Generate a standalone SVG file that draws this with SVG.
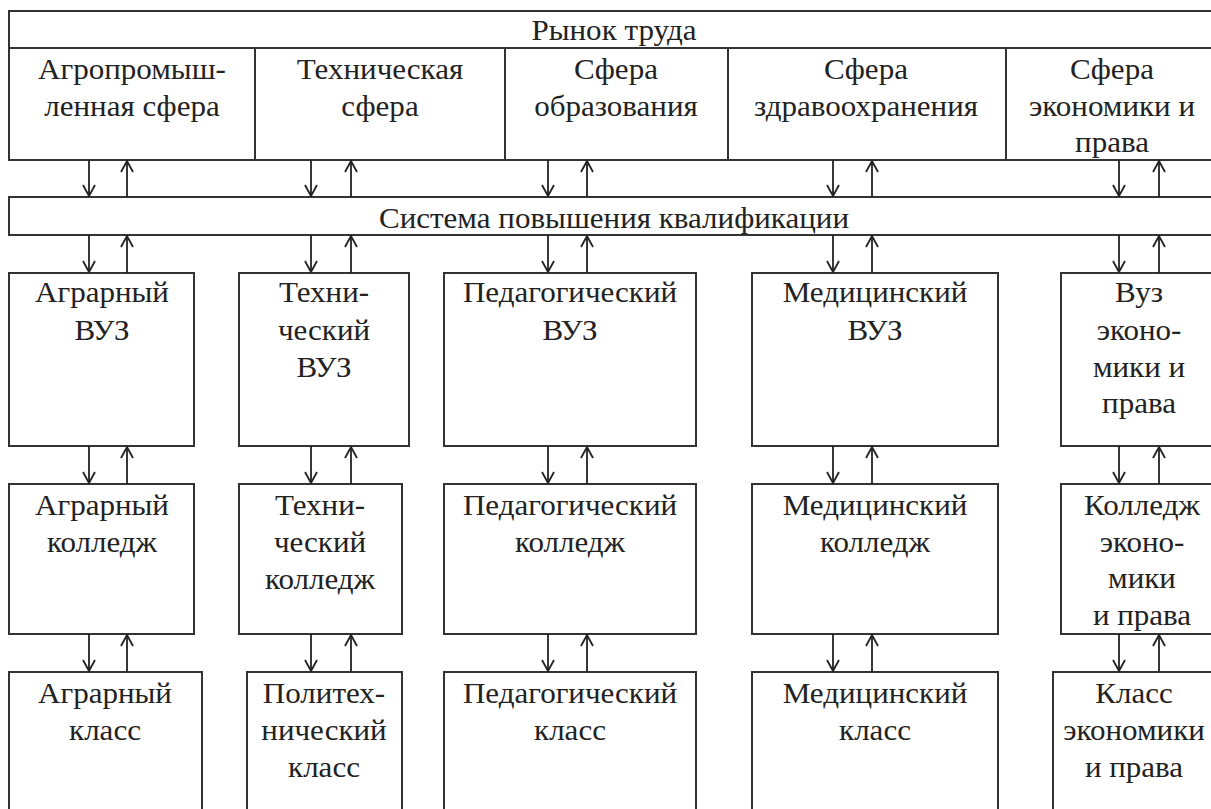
<svg xmlns="http://www.w3.org/2000/svg" width="1211" height="809" viewBox="0 0 1211 809">
<defs>
<marker id="ah" viewBox="-13 -7 14 14" refX="0" refY="0" markerWidth="14" markerHeight="14" markerUnits="userSpaceOnUse" orient="auto">
<path d="M-11,-6 L0,0 L-11,6" fill="none" stroke="#222" stroke-width="1.8"/>
</marker>
<style>
.box{fill:#fff;stroke:#333;stroke-width:2}
.ln{stroke:#333;stroke-width:2;fill:none}
.t{font-family:"Liberation Serif","Times New Roman",serif;font-size:29px;fill:#222;text-anchor:middle}
.dn{stroke:#222;stroke-width:1.8;fill:none;marker-end:url(#ah)}
.up{stroke:#222;stroke-width:1.8;fill:none;marker-end:url(#ah)}
</style>
</defs>
<rect width="1211" height="809" fill="#fff"/>
<g id="market">
<rect class="box" x="9" y="11" width="1209" height="149"/>
<line class="ln" x1="9" y1="48" x2="1218" y2="48"/>
<g transform="translate(614,0) scale(1.07,1)"><text class="t" x="0" y="40">Рынок труда</text></g>
</g>
<g id="sphere-agro">
<g transform="translate(132,0) scale(1.07,1)"><text class="t" x="0" y="79">Агропромыш-</text><text class="t" x="0" y="116">ленная сфера</text></g>
</g>
<g id="sphere-tech">
<line class="ln" x1="255" y1="48" x2="255" y2="160"/>
<g transform="translate(380,0) scale(1.07,1)"><text class="t" x="0" y="79">Техническая</text><text class="t" x="0" y="116">сфера</text></g>
</g>
<g id="sphere-edu">
<line class="ln" x1="505" y1="48" x2="505" y2="160"/>
<g transform="translate(616,0) scale(1.07,1)"><text class="t" x="0" y="79">Сфера</text><text class="t" x="0" y="116">образования</text></g>
</g>
<g id="sphere-health">
<line class="ln" x1="728" y1="48" x2="728" y2="160"/>
<g transform="translate(866,0) scale(1.07,1)"><text class="t" x="0" y="79">Сфера</text><text class="t" x="0" y="116">здравоохранения</text></g>
</g>
<g id="sphere-econ">
<line class="ln" x1="1006" y1="48" x2="1006" y2="160"/>
<g transform="translate(1112,0) scale(1.07,1)"><text class="t" x="0" y="79">Сфера</text><text class="t" x="0" y="116">экономики и</text><text class="t" x="0" y="152">права</text></g>
</g>
<g id="system">
<rect class="box" x="9" y="197" width="1209" height="38"/>
<g transform="translate(614,0) scale(1.07,1)"><text class="t" x="0" y="228">Система повышения квалификации</text></g>
</g>
<g id="vuz-agro">
<rect class="box" x="9" y="273" width="185" height="173"/>
<g transform="translate(102,0) scale(1.07,1)"><text class="t" x="0" y="302">Аграрный</text><text class="t" x="0" y="340">ВУЗ</text></g>
</g>
<g id="vuz-tech">
<rect class="box" x="239" y="273" width="170" height="173"/>
<g transform="translate(324,0) scale(1.07,1)"><text class="t" x="0" y="302">Техни-</text><text class="t" x="0" y="340">ческий</text><text class="t" x="0" y="377">ВУЗ</text></g>
</g>
<g id="vuz-ped">
<rect class="box" x="444" y="273" width="252" height="173"/>
<g transform="translate(570,0) scale(1.07,1)"><text class="t" x="0" y="302">Педагогический</text><text class="t" x="0" y="340">ВУЗ</text></g>
</g>
<g id="vuz-med">
<rect class="box" x="752" y="273" width="246" height="173"/>
<g transform="translate(875,0) scale(1.07,1)"><text class="t" x="0" y="302">Медицинский</text><text class="t" x="0" y="340">ВУЗ</text></g>
</g>
<g id="vuz-econ">
<rect class="box" x="1061" y="273" width="157" height="173"/>
<g transform="translate(1139,0) scale(1.07,1)"><text class="t" x="0" y="302">Вуз</text><text class="t" x="0" y="340">эконо-</text><text class="t" x="0" y="377">мики и</text><text class="t" x="0" y="413">права</text></g>
</g>
<g id="col-agro">
<rect class="box" x="9" y="484" width="185" height="150"/>
<g transform="translate(102,0) scale(1.07,1)"><text class="t" x="0" y="515">Аграрный</text><text class="t" x="0" y="552">колледж</text></g>
</g>
<g id="col-tech">
<rect class="box" x="239" y="484" width="163" height="150"/>
<g transform="translate(320,0) scale(1.07,1)"><text class="t" x="0" y="515">Техни-</text><text class="t" x="0" y="552">ческий</text><text class="t" x="0" y="589">колледж</text></g>
</g>
<g id="col-ped">
<rect class="box" x="444" y="484" width="252" height="150"/>
<g transform="translate(570,0) scale(1.07,1)"><text class="t" x="0" y="515">Педагогический</text><text class="t" x="0" y="552">колледж</text></g>
</g>
<g id="col-med">
<rect class="box" x="752" y="484" width="246" height="150"/>
<g transform="translate(875,0) scale(1.07,1)"><text class="t" x="0" y="515">Медицинский</text><text class="t" x="0" y="552">колледж</text></g>
</g>
<g id="col-econ">
<rect class="box" x="1061" y="484" width="157" height="150"/>
<g transform="translate(1142,0) scale(1.07,1)"><text class="t" x="0" y="515">Колледж</text><text class="t" x="0" y="552">эконо-</text><text class="t" x="0" y="588">мики</text><text class="t" x="0" y="625">и права</text></g>
</g>
<g id="cls-agro">
<rect class="box" x="9" y="672" width="193" height="150"/>
<g transform="translate(105,0) scale(1.07,1)"><text class="t" x="0" y="703">Аграрный</text><text class="t" x="0" y="740">класс</text></g>
</g>
<g id="cls-tech">
<rect class="box" x="247" y="672" width="155" height="150"/>
<g transform="translate(324,0) scale(1.07,1)"><text class="t" x="0" y="703">Политех-</text><text class="t" x="0" y="740">нический</text><text class="t" x="0" y="777">класс</text></g>
</g>
<g id="cls-ped">
<rect class="box" x="444" y="672" width="252" height="150"/>
<g transform="translate(570,0) scale(1.07,1)"><text class="t" x="0" y="703">Педагогический</text><text class="t" x="0" y="740">класс</text></g>
</g>
<g id="cls-med">
<rect class="box" x="752" y="672" width="246" height="150"/>
<g transform="translate(875,0) scale(1.07,1)"><text class="t" x="0" y="703">Медицинский</text><text class="t" x="0" y="740">класс</text></g>
</g>
<g id="cls-econ">
<rect class="box" x="1053" y="672" width="165" height="150"/>
<g transform="translate(1134,0) scale(1.07,1)"><text class="t" x="0" y="703">Класс</text><text class="t" x="0" y="740">экономики</text><text class="t" x="0" y="777">и права</text></g>
</g>
<g id="connectors">
<line class="dn" x1="89" y1="160" x2="89" y2="196"/><line class="up" x1="127" y1="197" x2="127" y2="161"/>
<line class="dn" x1="311" y1="160" x2="311" y2="196"/><line class="up" x1="351" y1="197" x2="351" y2="161"/>
<line class="dn" x1="548" y1="160" x2="548" y2="196"/><line class="up" x1="587" y1="197" x2="587" y2="161"/>
<line class="dn" x1="833" y1="160" x2="833" y2="196"/><line class="up" x1="872" y1="197" x2="872" y2="161"/>
<line class="dn" x1="1119" y1="160" x2="1119" y2="196"/><line class="up" x1="1159" y1="197" x2="1159" y2="161"/>

<line class="dn" x1="89" y1="235" x2="89" y2="272"/><line class="up" x1="127" y1="273" x2="127" y2="236"/>
<line class="dn" x1="311" y1="235" x2="311" y2="272"/><line class="up" x1="351" y1="273" x2="351" y2="236"/>
<line class="dn" x1="548" y1="235" x2="548" y2="272"/><line class="up" x1="587" y1="273" x2="587" y2="236"/>
<line class="dn" x1="833" y1="235" x2="833" y2="272"/><line class="up" x1="872" y1="273" x2="872" y2="236"/>
<line class="dn" x1="1119" y1="235" x2="1119" y2="272"/><line class="up" x1="1159" y1="273" x2="1159" y2="236"/>

<line class="dn" x1="89" y1="446" x2="89" y2="483"/><line class="up" x1="127" y1="484" x2="127" y2="447"/>
<line class="dn" x1="311" y1="446" x2="311" y2="483"/><line class="up" x1="351" y1="484" x2="351" y2="447"/>
<line class="dn" x1="548" y1="446" x2="548" y2="483"/><line class="up" x1="587" y1="484" x2="587" y2="447"/>
<line class="dn" x1="833" y1="446" x2="833" y2="483"/><line class="up" x1="872" y1="484" x2="872" y2="447"/>
<line class="dn" x1="1119" y1="446" x2="1119" y2="483"/><line class="up" x1="1159" y1="484" x2="1159" y2="447"/>

<line class="dn" x1="89" y1="634" x2="89" y2="671"/><line class="up" x1="127" y1="672" x2="127" y2="635"/>
<line class="dn" x1="311" y1="634" x2="311" y2="671"/><line class="up" x1="351" y1="672" x2="351" y2="635"/>
<line class="dn" x1="548" y1="634" x2="548" y2="671"/><line class="up" x1="587" y1="672" x2="587" y2="635"/>
<line class="dn" x1="833" y1="634" x2="833" y2="671"/><line class="up" x1="872" y1="672" x2="872" y2="635"/>
<line class="dn" x1="1119" y1="634" x2="1119" y2="671"/><line class="up" x1="1159" y1="672" x2="1159" y2="635"/>
</g>
</svg>
